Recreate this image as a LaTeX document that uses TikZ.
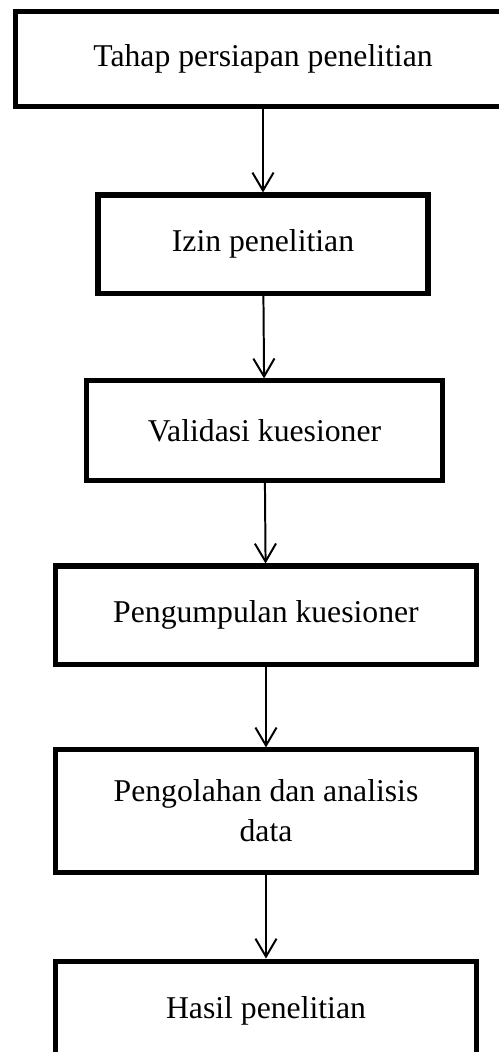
\documentclass[tikz,border=0pt]{standalone}
\usepackage{fontspec}
\setmainfont{Liberation Serif}
\usetikzlibrary{arrows.meta}

\begin{document}
\begin{tikzpicture}[x=0.3785pt,y=-0.3785pt,
		tahap/.style={draw,rectangle,line width=1.9pt,align=center,inner sep=0pt,font=\fontsize{12}{15.1}\selectfont},
		panah/.style={line width=0.75pt,-{Straight Barb[length=6.8pt,width=8pt]}}]
		\useasboundingbox (0,0) rectangle (499,1052);
		\node[tahap,minimum width=187.7pt,minimum height=35.6pt] (t1) at (263,59) {Tahap persiapan penelitian};
		\node[tahap,minimum width=124.9pt,minimum height=37.1pt] (t2) at (263,244) {Izin penelitian};
		\node[tahap,minimum width=134.4pt,minimum height=37.5pt] (t3) at (264.5,430.5) {Validasi kuesioner};
		\node[tahap,minimum width=159.7pt,minimum height=37.1pt] (t4) at (266,615) {Pengumpulan kuesioner};
		\node[tahap,minimum width=159.7pt,minimum height=46.2pt] (t5) at (266,811) {Pengolahan dan analisis\\data};
		\node[tahap,minimum width=159.3pt,minimum height=37.8pt] (t6) at (266,1011) {Hasil penelitian};
		\draw[panah] (t1) -- (t2);
		\draw[panah] (t2) -- (t3);
		\draw[panah] (t3) -- (t4);
		\draw[panah] (t4) -- (t5);
		\draw[panah] (t5) -- (t6);
	\end{tikzpicture}
\end{document}
